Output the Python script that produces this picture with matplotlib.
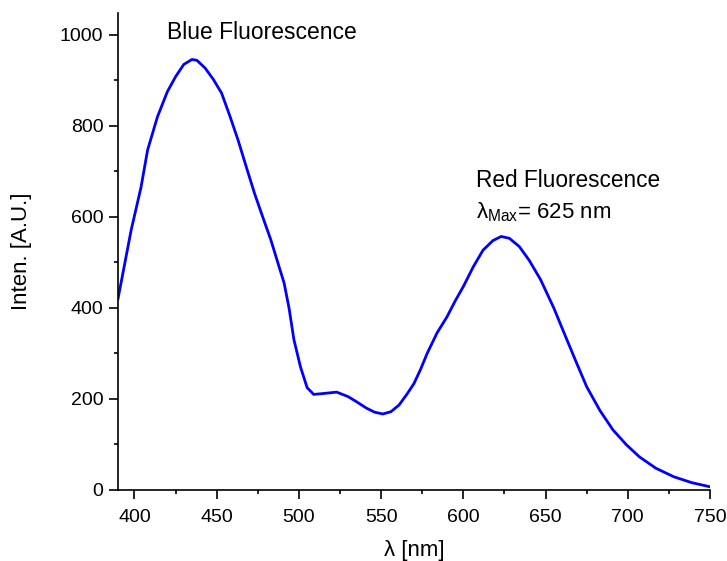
import matplotlib.pyplot as plt
from matplotlib.ticker import MultipleLocator

plt.rcParams['font.family'] = ['Liberation Sans', 'DejaVu Sans']
plt.rcParams['mathtext.fontset'] = 'custom'
plt.rcParams['mathtext.rm'] = 'Liberation Sans'

# spectrum
wl = [390, 398, 404, 408, 414, 420, 425, 430, 435, 438, 443, 448, 453, 458, 463,
      468, 473, 478, 483, 488, 491, 494, 497, 501, 505, 509, 515, 523, 530, 535,
      541, 546, 551, 556, 561, 566, 570, 574, 578, 584, 590, 595, 600, 606, 612,
      618, 623, 628, 634, 640, 647, 655, 663, 669, 675, 683, 691, 699, 707, 717,
      728, 739, 750]
inten = [420, 571, 665, 747, 820, 875, 908, 935, 946, 944, 927, 902, 872, 822, 769,
         710, 652, 600, 549, 490, 455, 400, 330, 270, 225, 210, 212, 215, 205, 194,
         180, 171, 167, 172, 187, 212, 234, 265, 300, 345, 380, 415, 447, 490, 527,
         548, 557, 553, 535, 505, 462, 400, 330, 278, 227, 175, 132, 100, 73, 48,
         29, 16, 7]

fig = plt.figure(figsize=(7.27, 5.61), dpi=100)
ax = fig.add_axes([0.1623, 0.1266, 0.8143, 0.8502])

ax.plot(wl, inten, color='#0000ff', lw=2)

ax.set_xlim(390, 750)
ax.set_ylim(0, 1048)
ax.xaxis.set_major_locator(MultipleLocator(50))
ax.xaxis.set_minor_locator(MultipleLocator(25))
ax.yaxis.set_major_locator(MultipleLocator(200))
ax.yaxis.set_minor_locator(MultipleLocator(100))

for s in ['top', 'right']:
    ax.spines[s].set_visible(False)
for s in ['left', 'bottom']:
    ax.spines[s].set_linewidth(1.2)
ax.tick_params(which='major', direction='out', length=6.5, width=1.2, labelsize=14)
ax.tick_params(which='minor', direction='out', length=3, width=1.2)
ax.tick_params(axis='x', which='major', pad=7.5)
ax.tick_params(axis='y', which='major', pad=4)

ax.set_xlabel('λ [nm]', fontsize=16, labelpad=10)
ax.set_ylabel('Inten. [A.U.]', fontsize=16, labelpad=20)

ax.text(420, 1006, 'Blue Fluorescence', fontsize=16.5, va='center')
ax.text(608, 679, 'Red Fluorescence', fontsize=16.3, va='center')
ax.text(608, 611, r'$\mathregular{\lambda_{Max}}$= 625 nm', fontsize=16, va='center')

fig.savefig('out.png', dpi=100)
